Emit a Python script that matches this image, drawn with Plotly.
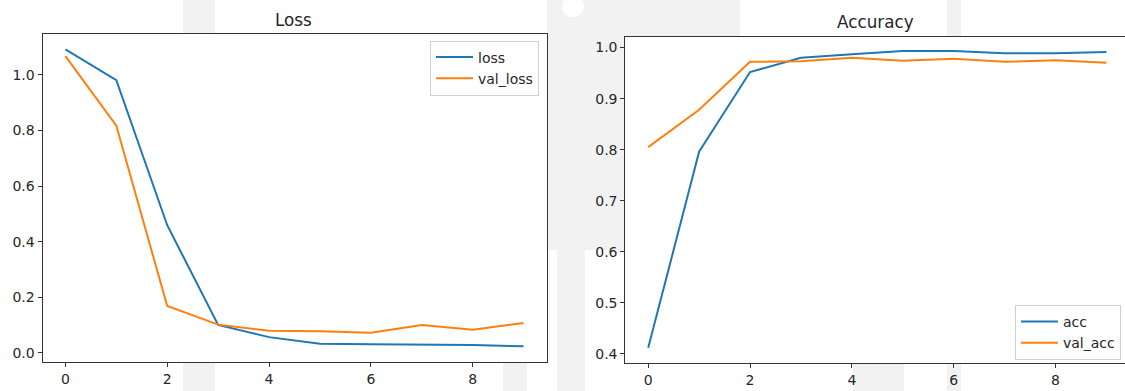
import plotly.graph_objects as go

epochs = list(range(10))

loss = [1.092, 0.981, 0.459, 0.100, 0.056, 0.032, 0.030, 0.030, 0.028, 0.023]
val_loss = [1.068, 0.817, 0.168, 0.101, 0.079, 0.077, 0.072, 0.100, 0.083, 0.107]

acc = [0.412, 0.796, 0.952, 0.980, 0.987, 0.993, 0.993, 0.989, 0.989, 0.991]
val_acc = [0.805, 0.878, 0.972, 0.973, 0.980, 0.974, 0.978, 0.972, 0.975, 0.970]

x_ticks = [0, 2, 4, 6, 8]
loss_ticks = [0.0, 0.2, 0.4, 0.6, 0.8, 1.0]
acc_ticks = [0.4, 0.5, 0.6, 0.7, 0.8, 0.9, 1.0]

BLUE = "#1f77b4"
ORANGE = "#ff7f0e"
FONT = "DejaVu Sans"
W, H = 1125, 391

fig = go.Figure()

fig.add_trace(go.Scatter(x=epochs, y=loss, name="loss", xaxis="x", yaxis="y",
                         line=dict(color=BLUE, width=2), mode="lines", legend="legend"))
fig.add_trace(go.Scatter(x=epochs, y=val_loss, name="val_loss", xaxis="x", yaxis="y",
                         line=dict(color=ORANGE, width=2), mode="lines", legend="legend"))
fig.add_trace(go.Scatter(x=epochs, y=acc, name="acc", xaxis="x2", yaxis="y2",
                         line=dict(color=BLUE, width=2), mode="lines", legend="legend2"))
fig.add_trace(go.Scatter(x=epochs, y=val_acc, name="val_acc", xaxis="x2", yaxis="y2",
                         line=dict(color=ORANGE, width=2), mode="lines", legend="legend2"))


def px_x(p):
    return p / W


def px_y(p):
    return (H - p) / H


axis_common = dict(
    showgrid=False, zeroline=False, showline=True, linecolor="#333333", linewidth=1,
    mirror=True, ticks="outside", ticklen=4, tickwidth=1, tickcolor="#333333",
    tickfont=dict(family=FONT, size=14, color="#262626"),
)

legend_common = dict(
    bgcolor="rgba(255,255,255,0.8)", bordercolor="#d0d0d0", borderwidth=1,
    font=dict(family=FONT, size=14, color="#262626"),
    xanchor="right", yanchor="top", itemwidth=37, tracegroupgap=0,
)

# faint background emblem behind the figure (outside the plotting areas)
WM = "#f2f2f2"
emblem_boxes = [
    (547, 0, 740, 36),     # band above the right panel
    (547, 36, 625, 250),   # gap between the panels
    (557, 250, 585, 391),  # lower column in the gap
    (183, 0, 215, 33.7),   # stripe above left panel
    (183, 362, 215, 391),  # stripe below left panel
    (503, 362, 527, 391),
    (853, 363, 904, 391),
    (947, 0, 961, 36.7),
    (947, 363, 961, 391),
]
shapes = [
    dict(type="rect", xref="paper", yref="paper", layer="below",
         x0=px_x(x0), x1=px_x(x1), y0=px_y(y1), y1=px_y(y0),
         fillcolor=WM, line=dict(width=0))
    for x0, y0, x1, y1 in emblem_boxes
]
shapes.append(dict(type="circle", xref="paper", yref="paper", layer="below",
                   x0=px_x(562), x1=px_x(584), y0=px_y(17), y1=px_y(-5),
                   fillcolor="white", line=dict(width=0)))

fig.update_layout(
    width=W, height=H,
    margin=dict(l=0, r=0, t=0, b=0),
    paper_bgcolor="white", plot_bgcolor="white",
    showlegend=True,
    shapes=shapes,
    xaxis=dict(domain=[px_x(42.5), px_x(546.5)], range=[-0.45, 9.45],
               tickvals=x_ticks, anchor="y", **axis_common),
    yaxis=dict(domain=[px_y(362), px_y(33.7)], range=[-0.0335, 1.1485],
               tickvals=loss_ticks, tickformat=".1f", anchor="x", **axis_common),
    xaxis2=dict(domain=[px_x(625.3), 1.0], range=[-0.45, 9.365],
                tickvals=x_ticks, anchor="y2", **axis_common),
    yaxis2=dict(domain=[px_y(362.7), px_y(36.7)], range=[0.3829, 1.0212],
                tickvals=acc_ticks, tickformat=".1f", anchor="x2", **axis_common),
    legend=dict(x=px_x(539), y=px_y(40.5), **legend_common),
    legend2=dict(x=px_x(1121), y=px_y(305), **legend_common),
    annotations=[
        dict(text="Loss", x=px_x(294), y=px_y(20), xref="paper", yref="paper",
             xanchor="center", yanchor="middle", showarrow=False,
             font=dict(family=FONT, size=16.8, color="#262626")),
        dict(text="Accuracy", x=px_x(875), y=px_y(22), xref="paper", yref="paper",
             xanchor="center", yanchor="middle", showarrow=False,
             font=dict(family=FONT, size=16.8, color="#262626")),
    ],
)

fig.write_html("out.html")
